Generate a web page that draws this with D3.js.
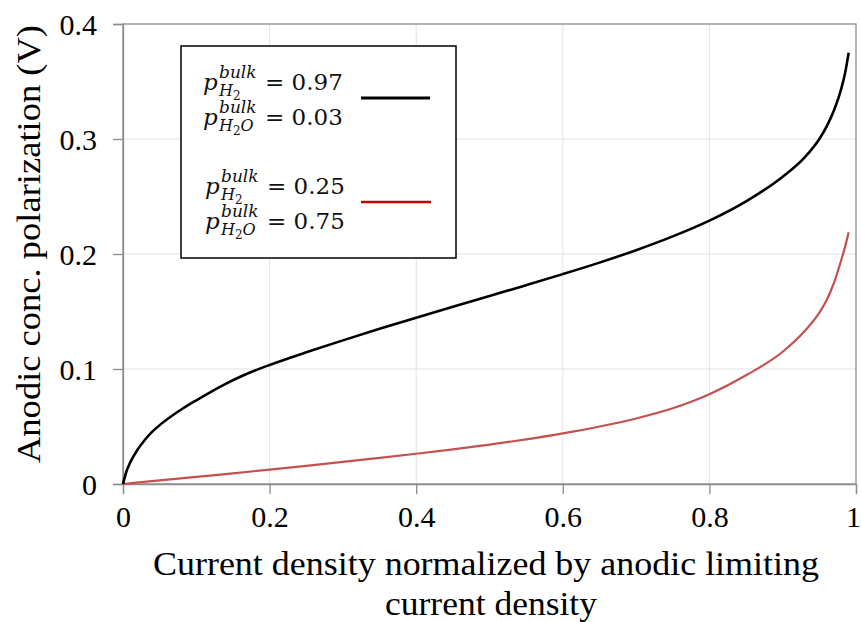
<!DOCTYPE html>
<html>
<head>
<meta charset="utf-8">
<script src="https://cdn.jsdelivr.net/npm/d3@7"></script>
<style>
  body { margin: 0; background: #fff; }
  svg { display: block; }
</style>
</head>
<body>
<div id="page"></div>
<script>
// normalized current density (x) and anodic concentration polarization in V (y)
const blackX = [0, 0.005, 0.01, 0.02, 0.03, 0.04, 0.05, 0.065, 0.08, 0.1, 0.12, 0.14, 0.16, 0.18, 0.2, 0.25, 0.3, 0.35, 0.4, 0.45, 0.5, 0.55, 0.6, 0.65, 0.7, 0.75, 0.8, 0.85, 0.9, 0.93, 0.95, 0.96, 0.97, 0.98, 0.985, 0.99];
const blackY = [0, 0.0115, 0.019, 0.030, 0.0385, 0.0455, 0.0512, 0.0585, 0.065, 0.0728, 0.0802, 0.0871, 0.0933, 0.0987, 0.1035, 0.1145, 0.1249, 0.1349, 0.1446, 0.1541, 0.1635, 0.1729, 0.1825, 0.1925, 0.2033, 0.2153, 0.229, 0.2458, 0.2672, 0.284, 0.300, 0.311, 0.325, 0.344, 0.357, 0.375];
const redX = [0, 0.05, 0.1, 0.15, 0.2, 0.25, 0.3, 0.35, 0.4, 0.45, 0.5, 0.55, 0.6, 0.65, 0.7, 0.75, 0.8, 0.85, 0.9, 0.93, 0.95, 0.96, 0.97, 0.98, 0.985, 0.99];
const redY = [0, 0.0031, 0.0062, 0.0093, 0.0125, 0.0158, 0.0192, 0.0227, 0.0263, 0.0301, 0.0342, 0.0388, 0.044, 0.05, 0.057, 0.0658, 0.078, 0.0945, 0.115, 0.133, 0.149, 0.160, 0.175, 0.195, 0.206, 0.219];

const xTicks = [0, 0.2, 0.4, 0.6, 0.8, 1];
const yTicks = [0, 0.1, 0.2, 0.3, 0.4];
const xTickLabels = ['0', '0.2', '0.4', '0.6', '0.8', '1'];
const yTickLabels = ['0', '0.1', '0.2', '0.3', '0.4'];

const legendRows = [
  { sub: 'H', subNum: '2', subTail: '', value: '0.97' },
  { sub: 'H', subNum: '2', subTail: 'O', value: '0.03' },
  { sub: 'H', subNum: '2', subTail: '', value: '0.25' },
  { sub: 'H', subNum: '2', subTail: 'O', value: '0.75' }
];

const width = 861;
const height = 622;
const margin = { top: 24, right: 5, bottom: 138, left: 123 };
const innerW = width - margin.left - margin.right;
const innerH = height - margin.top - margin.bottom;
const serif = '"Liberation Serif", "Times New Roman", serif';

const svg = d3.select('#page')
              .append('svg')
              .attr('width', width)
              .attr('height', height);

const x = d3.scaleLinear().domain([0, 1]).range([margin.left, margin.left + innerW]);
const y = d3.scaleLinear().domain([0, 0.4]).range([margin.top + innerH, margin.top]);

// gridlines
svg.append('g')
   .selectAll('line')
   .data(xTicks.slice(1, -1))
   .enter()
   .append('line')
   .attr('x1', d => x(d)).attr('x2', d => x(d))
   .attr('y1', y(0)).attr('y2', y(0.4))
   .attr('stroke', '#e3e3e3').attr('stroke-width', 1);

svg.append('g')
   .selectAll('line')
   .data(yTicks.slice(1, -1))
   .enter()
   .append('line')
   .attr('x1', x(0)).attr('x2', x(1))
   .attr('y1', d => y(d)).attr('y2', d => y(d))
   .attr('stroke', '#e3e3e3').attr('stroke-width', 1);

// frame (top and right)
svg.append('rect')
   .attr('x', x(0)).attr('y', y(0.4))
   .attr('width', x(1) - x(0)).attr('height', y(0) - y(0.4))
   .attr('fill', 'none').attr('stroke', '#8c8c8c').attr('stroke-width', 1.3);

const xAxis = svg.append('g')
                 .attr('transform', `translate(0,${y(0)})`)
                 .call(d3.axisBottom(x).tickValues(xTicks).tickSize(10).tickPadding(12)
                         .tickFormat((d, i) => xTickLabels[i]));

const yAxis = svg.append('g')
                 .attr('transform', `translate(${x(0)},0)`)
                 .call(d3.axisLeft(y).tickValues(yTicks).tickSize(10).tickPadding(16)
                         .tickFormat((d, i) => yTickLabels[i]));

[xAxis, yAxis].forEach(a => {
    a.attr('font-family', serif).attr('font-size', 30);
    a.select('.domain').attr('stroke', '#8c8c8c').attr('stroke-width', 1.3);
    a.selectAll('.tick line').attr('stroke', '#8c8c8c').attr('stroke-width', 1.3);
    a.selectAll('.tick text').style('font-family', serif).style('font-size', '30px').attr('fill', '#000');
});
yAxis.selectAll('.tick text').attr('dy', '0.36em');
xAxis.selectAll('.tick text').filter(d => d === 1).attr('dx', -3);

const line = d3.line()
               .x(d => x(d[0]))
               .y(d => y(d[1]))
               .curve(d3.curveMonotoneX);

svg.append('path')
   .datum(redX.map((v, i) => [v, redY[i]]))
   .attr('d', line)
   .attr('fill', 'none')
   .attr('stroke', '#c55050')
   .attr('stroke-width', 2.2);

svg.append('path')
   .datum(blackX.map((v, i) => [v, blackY[i]]))
   .attr('d', line)
   .attr('fill', 'none')
   .attr('stroke', '#000')
   .attr('stroke-width', 2.6);

// axis titles
svg.append('text')
   .attr('transform', `translate(${28},${244}) rotate(-90)`)
   .attr('text-anchor', 'middle')
   .attr('dy', '0.35em')
   .attr('textLength', 438)
   .attr('lengthAdjust', 'spacingAndGlyphs')
   .style('font-family', serif)
   .style('font-size', '33px')
   .text('Anodic conc. polarization (V)');

svg.append('text')
   .attr('x', 486).attr('y', 575)
   .attr('text-anchor', 'middle')
   .attr('textLength', 666)
   .attr('lengthAdjust', 'spacingAndGlyphs')
   .style('font-family', serif)
   .style('font-size', '33px')
   .text('Current density normalized by anodic limiting');

svg.append('text')
   .attr('x', 491).attr('y', 615)
   .attr('text-anchor', 'middle')
   .attr('textLength', 212)
   .attr('lengthAdjust', 'spacingAndGlyphs')
   .style('font-family', serif)
   .style('font-size', '33px')
   .text('current density');

// legend
const legend = svg.append('g');
legend.append('rect')
      .attr('x', 181).attr('y', 46)
      .attr('width', 275).attr('height', 212)
      .attr('fill', '#fff')
      .attr('stroke', '#000')
      .attr('stroke-width', 1.5);

const mathFont = '"DejaVu Serif", serif';
const rowBase = [90, 125, 194, 229];
const rowX = [203, 203, 205, 205];

legendRows.forEach((r, i) => {
    const t = legend.append('text')
                    .attr('x', rowX[i]).attr('y', rowBase[i])
                    .style('font-family', mathFont)
                    .style('font-size', '23px')
                    .attr('fill', '#111');
    t.append('tspan').style('font-style', 'italic').text('p');
    t.append('tspan').attr('x', rowX[i] + 16).attr('dy', -12).style('font-style', 'italic').style('font-size', '17px').text('bulk');
    t.append('tspan').attr('x', rowX[i] + 16).attr('dy', 18).style('font-style', 'italic').style('font-size', '16px').text(r.sub);
    t.append('tspan').attr('dy', 4).style('font-size', '12px').text(r.subNum);
    if (r.subTail) t.append('tspan').attr('dy', -4).style('font-style', 'italic').style('font-size', '16px').text(r.subTail);
    t.append('tspan').attr('x', rowX[i] + 62).attr('y', rowBase[i]).text('= ' + r.value);
});

legend.append('line')
      .attr('x1', 361).attr('x2', 430).attr('y1', 98).attr('y2', 98)
      .attr('stroke', '#000').attr('stroke-width', 3);
legend.append('line')
      .attr('x1', 361).attr('x2', 431).attr('y1', 202).attr('y2', 202)
      .attr('stroke', '#c00000').attr('stroke-width', 2.5);
</script>
</body>
</html>
